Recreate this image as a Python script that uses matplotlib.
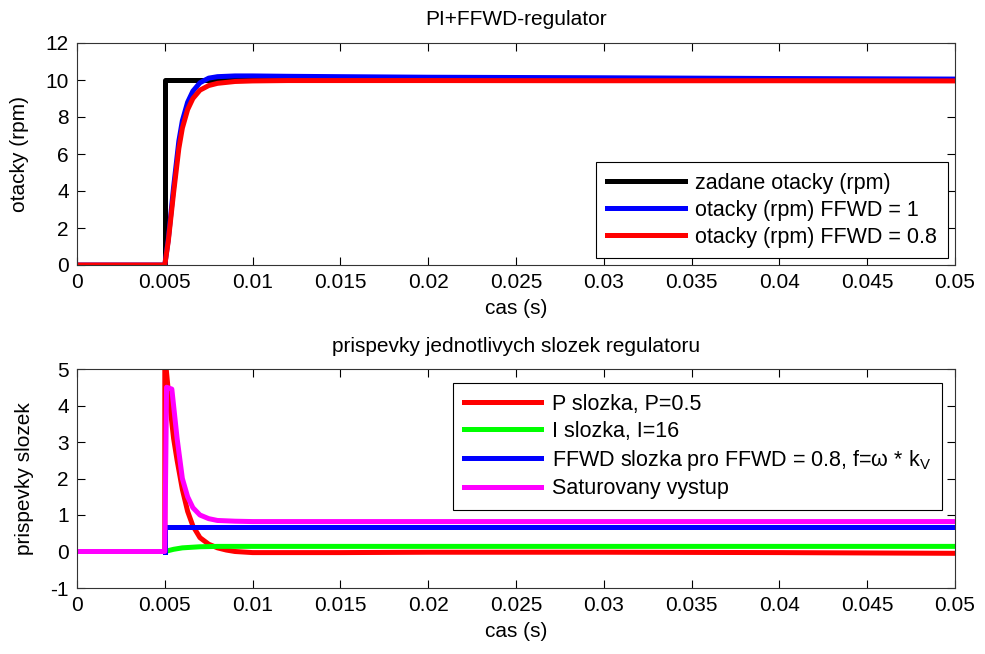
import numpy as np
import matplotlib
matplotlib.use('Agg')
from matplotlib import pyplot as plt

plt.rcParams['font.family'] = ['Liberation Sans', 'DejaVu Sans']
plt.rcParams['mathtext.fontset'] = 'custom'
plt.rcParams['mathtext.rm'] = 'Liberation Sans'
plt.rcParams['mathtext.it'] = 'Liberation Sans'
plt.rcParams['axes.unicode_minus'] = False

# --- horni graf: otacky ---
t_ref = [0, 0.005, 0.005, 0.05]
w_ref = [0, 0, 10, 10]

t_resp = [0, 0.005, 0.0052, 0.0055, 0.0058, 0.006, 0.0063, 0.0066, 0.007,
          0.0075, 0.008, 0.009, 0.01, 0.012, 0.015, 0.02, 0.03, 0.04, 0.05]
w_ffwd1 = [0, 0, 1.4, 4.2, 6.7, 7.8, 8.8, 9.4, 9.85,
           10.1, 10.18, 10.22, 10.22, 10.2, 10.18, 10.15, 10.12, 10.08, 10.05]
w_ffwd08 = [0, 0, 1.3, 3.9, 6.3, 7.4, 8.4, 9.0, 9.45,
            9.7, 9.82, 9.92, 9.95, 9.97, 9.97, 9.97, 9.96, 9.96, 9.95]

# --- dolni graf: prispevky slozek ---
t_p = [0, 0.005, 0.005, 0.0052, 0.0055, 0.0057, 0.006, 0.0063, 0.0066,
       0.007, 0.0075, 0.008, 0.0085, 0.009, 0.01, 0.015, 0.02, 0.03, 0.04, 0.05]
p_part = [0, 0, 5.4, 4.4, 3.1, 2.5, 1.7, 1.1, 0.7,
          0.38, 0.2, 0.1, 0.04, 0.0, -0.03, -0.03, -0.02, -0.02, -0.03, -0.05]

t_i = [0, 0.005, 0.0055, 0.006, 0.007, 0.008, 0.01, 0.02, 0.03, 0.04, 0.05]
i_part = [0, 0, 0.06, 0.1, 0.13, 0.14, 0.14, 0.14, 0.14, 0.14, 0.14]

t_f = [0.005, 0.005, 0.05]
f_part = [0, 0.66, 0.66]

t_sat = [0, 0.005, 0.0051, 0.0054, 0.0057, 0.006, 0.0063, 0.0066, 0.007,
         0.0075, 0.008, 0.009, 0.01, 0.02, 0.03, 0.04, 0.05]
sat_out = [0, 0, 4.5, 4.45, 3.1, 2.0, 1.5, 1.2, 1.0,
           0.9, 0.85, 0.83, 0.82, 0.82, 0.82, 0.82, 0.82]

xticks = [0, 0.005, 0.01, 0.015, 0.02, 0.025, 0.03, 0.035, 0.04, 0.045, 0.05]
xlabels = ['0', '0.005', '0.01', '0.015', '0.02', '0.025', '0.03', '0.035', '0.04', '0.045', '0.05']

fs = 15
lw = 3.6

fig = plt.figure(figsize=(9.85, 6.54), dpi=100)
W, H = 985, 654
ax1 = fig.add_axes([77 / W, 1 - 265 / H, 878 / W, 222 / H])
ax2 = fig.add_axes([77 / W, 1 - 588 / H, 878 / W, 219 / H])


def style(ax):
    ax.set_xlim(0, 0.05)
    ax.set_xticks(xticks)
    ax.set_xticklabels(xlabels)
    ax.tick_params(direction='in', top=True, right=True, length=6, width=0.8,
                   labelsize=fs, pad=6, colors='black')
    for s in ax.spines.values():
        s.set_color('#333333')
        s.set_linewidth(0.8)


def make_legend(ax, loc, anchor):
    leg = ax.legend(loc=loc, bbox_to_anchor=anchor, fontsize=15.5,
                    fancybox=False, edgecolor='black', framealpha=1,
                    handlelength=3.6, labelspacing=0.27, borderpad=0.5,
                    handletextpad=0.5, borderaxespad=0)
    leg.get_frame().set_linewidth(0.8)
    return leg


ax1.plot(t_ref, w_ref, color='black', lw=lw, label='zadane otacky (rpm)')
ax1.plot(t_resp, w_ffwd1, color='blue', lw=lw, label='otacky (rpm) FFWD = 1')
ax1.plot(t_resp, w_ffwd08, color='red', lw=lw, label='otacky (rpm) FFWD = 0.8')
style(ax1)
ax1.set_ylim(0, 12)
ax1.set_yticks([0, 2, 4, 6, 8, 10, 12])
ax1.set_title('PI+FFWD-regulator', fontsize=fs, pad=13)
ax1.set_ylabel('otacky (rpm)', fontsize=fs, labelpad=12)
ax1.set_xlabel('cas (s)', fontsize=fs, labelpad=5)
make_legend(ax1, 'lower right', (0.992, 0.03))

ax2.plot(t_p, p_part, color='red', lw=lw, label='P slozka, P=0.5')
ax2.plot(t_i, i_part, color='#00ff00', lw=lw, label='I slozka, I=16')
ax2.plot(t_f, f_part, color='blue', lw=lw,
         label=r'FFWD slozka pro FFWD = 0.8, f=$\omega$ * k$_V$')
ax2.plot(t_sat, sat_out, color='magenta', lw=lw, label='Saturovany vystup')
style(ax2)
ax2.set_ylim(-1, 5)
ax2.set_yticks([-1, 0, 1, 2, 3, 4, 5])
ax2.set_title('prispevky jednotlivych slozek regulatoru', fontsize=fs, pad=12)
ax2.set_ylabel('prispevky slozek', fontsize=fs, labelpad=12)
ax2.set_xlabel('cas (s)', fontsize=fs, labelpad=5)
make_legend(ax2, 'upper right', (0.985, 0.935))

fig.savefig('out.png', dpi=100)
